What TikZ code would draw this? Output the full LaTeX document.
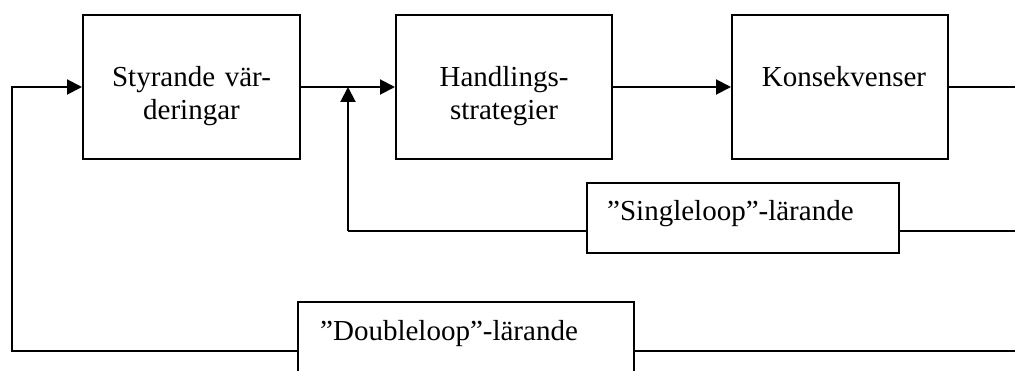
\documentclass[tikz,border=0pt]{standalone}
\usepackage{fontspec}
\setmainfont{Liberation Serif}
\usetikzlibrary{arrows.meta}
\tikzset{
  box/.style={draw, line width=2pt, inner sep=0pt, fill=white},
  txt/.style={font=\fontsize{29}{32.5}\selectfont, inner sep=0pt, text width=#1, align=center, anchor=base},
  ltxt/.style={font=\fontsize{29}{32.5}\selectfont, inner sep=0pt, anchor=base west},
  conn/.style={line width=2pt},
  arr/.style={conn, -{Triangle[length=15pt, width=15pt]}}
}
\begin{document}
\begin{tikzpicture}[x=1pt, y=-1pt]
\useasboundingbox (0,0) rectangle (1015,371);
\clip (0,0) rectangle (1015,371);
% boxes
\node[box, minimum width=217pt, minimum height=144pt] (styr) at (191.5,87) {};
\node[box, minimum width=216pt, minimum height=144pt] (hand) at (504,87) {};
\node[box, minimum width=216pt, minimum height=144pt] (kons) at (840,87) {};
\node[box, minimum width=312pt, minimum height=70pt] (sgl) at (743,218) {};
\node[box, minimum width=336pt, minimum height=98pt] (dbl) at (466,351) {};
% texts
\node[txt=210pt] (tstyr) at (191.5,87) {Styrande vär-\\deringar};
\node[txt=210pt] (thand) at (504,87) {Handlings-\\strategier};
\node[txt=210pt] (tkons) at (844,87) {Konsekvenser};
\node[ltxt] (tsgl) at (607,221) {”Singleloop”-lärande};
\node[ltxt] (tdbl) at (320,341) {”Doubleloop”-lärande};
% helper coordinates
\coordinate (cl) at (12,87);
\coordinate (sj) at (348,231);
\coordinate (re1) at (1020,87);
\coordinate (re2) at (1020,231);
\coordinate (re3) at (1020,351);
% connectors
\draw[arr] (styr.east) -- (hand.west);
\draw[arr] (hand.east) -- (kons.west);
\draw[conn] (kons.east) -- (re1);
\draw[conn] (re2) -- (sgl.east |- re2);
\draw[conn] (sgl.west |- sj) -- (sj);
\draw[arr] (sj) -- (sj |- styr.east);
\draw[conn] (re3) -- (dbl.east);
\draw[arr] (dbl.west) -| (cl) -- (styr.west);
\end{tikzpicture}
\end{document}
